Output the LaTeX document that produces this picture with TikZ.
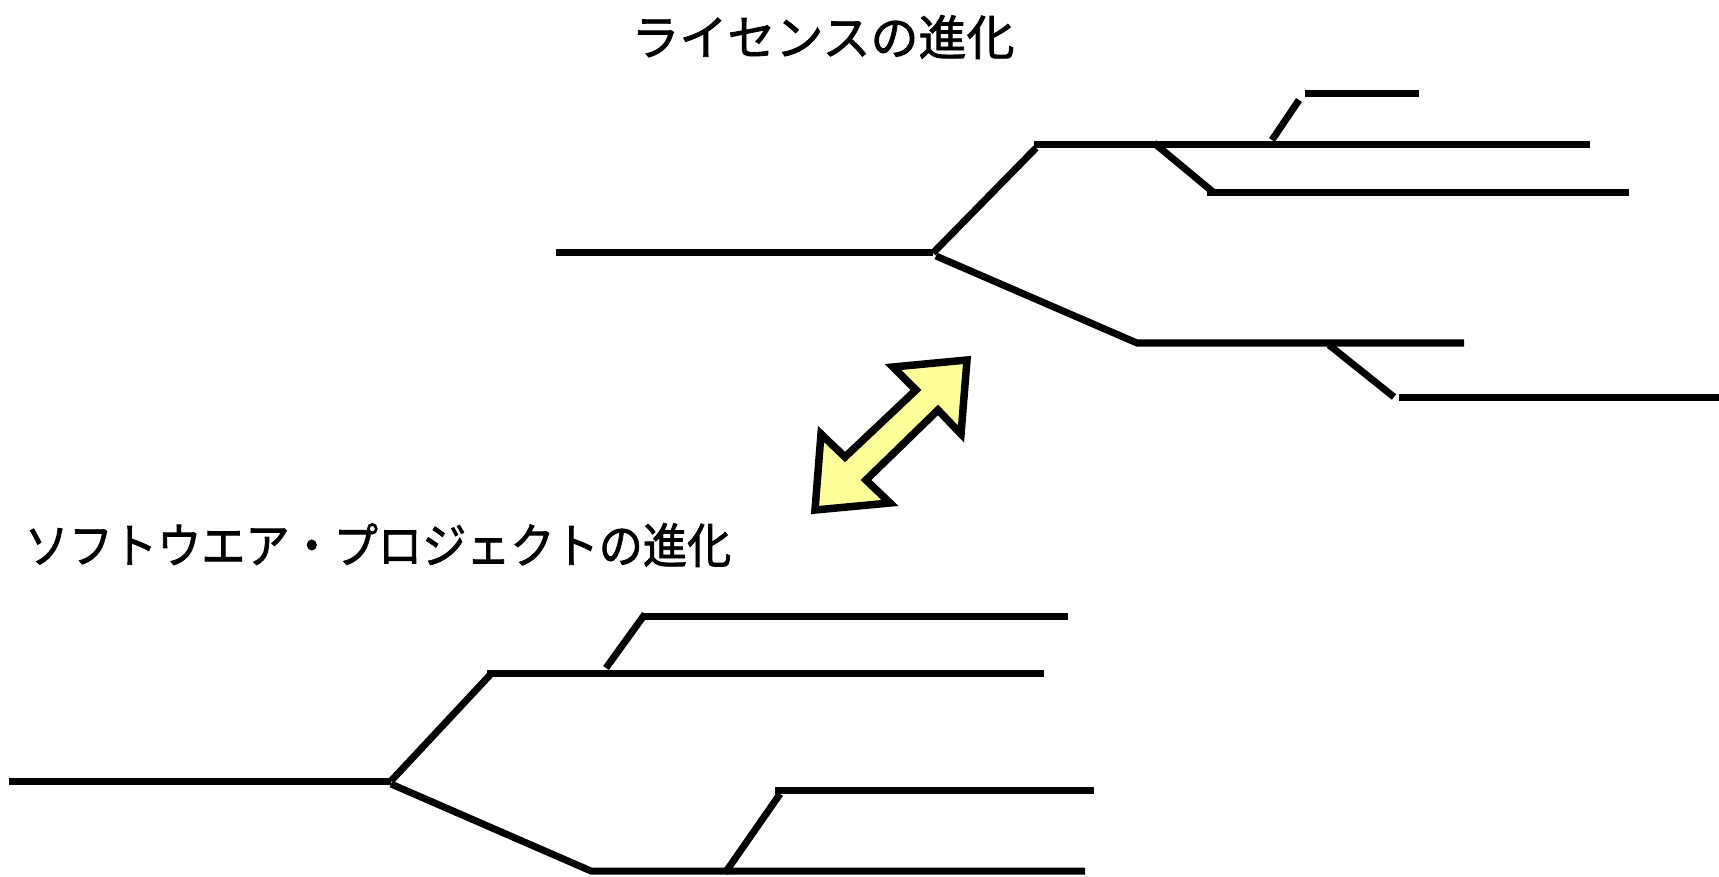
\documentclass[tikz,border=0pt]{standalone}
\usepackage{fontspec}
\newfontfamily\cjk[FakeBold=1.6]{Noto Sans CJK JP}
\definecolor{arrowyellow}{HTML}{FFFF99}
\tikzset{
  branch/.style={line width=7pt, line cap=butt, draw=black},
  dblarrow/.style={line width=7.5pt, line join=miter, draw=black, fill=arrowyellow},
  title/.style={inner sep=0pt, font=\cjk\fontsize{48}{48}\selectfont}
}
\begin{document}
\begin{tikzpicture}[x=1pt,y=-1pt]
\useasboundingbox (0,0) rectangle (1719,877);
% titles
\node[title] (t1) at (823,37) {ライセンスの進化};
\node[title] (t2) at (378,545) {\scalebox{0.92}[1]{ソフトウエア・プロジェクトの進化}};
% ---- top tree (license) ----
\coordinate (a0) at (556,253);
\coordinate (a1) at (933,253);
\coordinate (a2) at (1036,148);
\coordinate (a3) at (1034,145);
\coordinate (a4) at (1590,145);
\coordinate (a5) at (1154,143);
\coordinate (a6) at (1213,192);
\coordinate (a7) at (1207,193);
\coordinate (a8) at (1629,193);
\coordinate (a9) at (1272,140);
\coordinate (a10) at (1299,100);
\coordinate (a11) at (1305,94);
\coordinate (a12) at (1419,94);
\coordinate (a13) at (936,256);
\coordinate (a14) at (1137,343);
\coordinate (a15) at (1464,343);
\coordinate (a16) at (1329,345);
\coordinate (a17) at (1394,397);
\coordinate (a18) at (1399,397);
\coordinate (a19) at (1719,397);
\draw[branch] (a0) -- (a1);
\draw[branch] (a1) -- (a2);
\draw[branch] (a3) -- (a4);
\draw[branch] (a5) -- (a6);
\draw[branch] (a7) -- (a8);
\draw[branch] (a9) -- (a10);
\draw[branch] (a11) -- (a12);
\draw[branch] (a13) -- (a14) -- (a15);
\draw[branch] (a16) -- (a17);
\draw[branch] (a18) -- (a19);
% ---- bottom tree (software project) ----
\coordinate (b0) at (9,781);
\coordinate (b1) at (391,781);
\coordinate (b2) at (490,675);
\coordinate (b3) at (487,673);
\coordinate (b4) at (1044,673);
\coordinate (b5) at (606,668);
\coordinate (b6) at (645,614);
\coordinate (b7) at (642,616);
\coordinate (b8) at (1068,616);
\coordinate (b9) at (391,784);
\coordinate (b10) at (591,871);
\coordinate (b11) at (1085,871);
\coordinate (b12) at (725,873);
\coordinate (b13) at (780,794);
\coordinate (b14) at (775,790);
\coordinate (b15) at (1094,790);
\draw[branch] (b0) -- (b1);
\draw[branch] (b1) -- (b2);
\draw[branch] (b3) -- (b4);
\draw[branch] (b5) -- (b6);
\draw[branch] (b7) -- (b8);
\draw[branch] (b9) -- (b10) -- (b11);
\draw[branch] (b12) -- (b13);
\draw[branch] (b14) -- (b15);
% ---- double arrow ----
\draw[dblarrow] (967,360) -- (893,367) -- (916,390) -- (845,457) -- (821,434)
  -- (815,510) -- (890,503) -- (866,480) -- (938,410) -- (961,434) -- cycle;
\end{tikzpicture}
\end{document}
